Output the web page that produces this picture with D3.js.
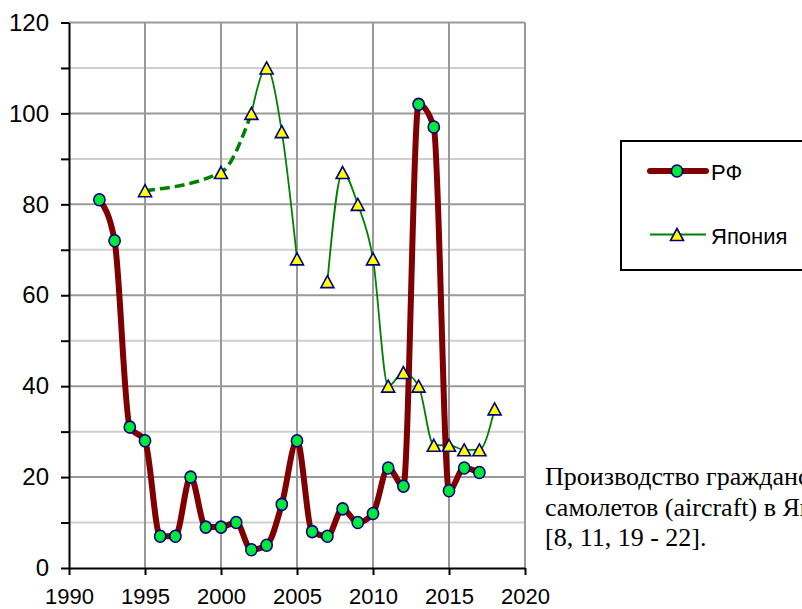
<!DOCTYPE html>
<html>
<head>
<meta charset="utf-8">
<script src="https://cdn.jsdelivr.net/npm/d3@7/dist/d3.min.js"></script>
<style>
	body { margin: 0; background: #fff; }
	svg { display: block; }
	.axis text { font-family: "Liberation Sans", Arial, sans-serif; font-size: 22px; fill: #000; }
	.axis.y text { font-size: 24px; }
	.axis path, .axis line { stroke: #000; stroke-width: 2px; }
</style>
</head>
<body>
<svg id="chart" width="802" height="609"></svg>
<script>
	// production of civil aircraft, units per year
	var rfYears = [1992, 1993, 1994, 1995, 1996, 1997, 1998, 1999, 2000, 2001, 2002, 2003, 2004,
		2005, 2006, 2007, 2008, 2009, 2010, 2011, 2012, 2013, 2014, 2015, 2016, 2017];
	var rfValues = [81, 72, 31, 28, 7, 7, 20, 9, 9, 10, 4, 5, 14,
		28, 8, 7, 13, 10, 12, 22, 18, 102, 97, 17, 22, 21];

	var jpYears = [1995, 2000, 2002, 2003, 2004, 2005, 2006, 2007, 2008, 2009, 2010, 2011, 2012,
		2013, 2014, 2015, 2016, 2017, 2018];
	var jpValues = [83, 87, 100, 110, 96, 68, null, 63, 87, 80, 68, 40, 43,
		40, 27, 27, 26, 26, 35];
	var jpDashedUntil = 2002; // 1995-2002 joined by a dashed estimate

	var xTicks = [1990, 1995, 2000, 2005, 2010, 2015, 2020];
	var yTicks = [0, 20, 40, 60, 80, 100, 120];
	var yMinorTicks = [10, 30, 50, 70, 90, 110];

	var seriesNames = ["РФ", "Япония"];
	var caption = ["Производство гражданских", "самолетов (aircraft) в Японии и РФ", "[8, 11, 19 - 22]."];

	function zip(x, y) {
		return x.map(function(_, i) {
			return { year: x[i], value: y[i] };
		});
	}

	var svg = d3.select("#chart");
	var x = d3.scaleLinear().domain([1990, 2020]).range([69, 525]);
	var y = d3.scaleLinear().domain([0, 120]).range([568, 22.5]);

	// grid
	var grid = svg.append("g");
	yMinorTicks.forEach(function(v) {
		grid.append("line")
			.attr("x1", x(1990)).attr("x2", x(2020))
			.attr("y1", y(v)).attr("y2", y(v))
			.attr("stroke", "#cfcfcf").attr("stroke-width", 2);
	});
	yTicks.slice(1).forEach(function(v) {
		grid.append("line")
			.attr("x1", x(1990)).attr("x2", x(2020))
			.attr("y1", y(v)).attr("y2", y(v))
			.attr("stroke", "#999").attr("stroke-width", 2);
	});
	xTicks.slice(1).forEach(function(v) {
		grid.append("line")
			.attr("x1", x(v)).attr("x2", x(v))
			.attr("y1", y(0)).attr("y2", y(120))
			.attr("stroke", "#999").attr("stroke-width", 2);
	});

	// axes
	svg.append("g").attr("class", "axis y")
		.attr("transform", "translate(" + x(1990) + ",0)")
		.call(d3.axisLeft(y).tickValues(yMinorTicks).tickFormat("").tickSize(8).tickSizeOuter(0))
		.select(".domain").remove();
	svg.append("g").attr("class", "axis y")
		.attr("transform", "translate(" + x(1990) + ",0)")
		.call(d3.axisLeft(y).tickValues(yTicks).tickFormat(d3.format("d")).tickSize(8).tickSizeOuter(0).tickPadding(12));
	svg.append("g").attr("class", "axis x")
		.attr("transform", "translate(0," + y(0) + ")")
		.call(d3.axisBottom(x).tickValues(xTicks).tickFormat(d3.format("d")).tickSize(7).tickSizeOuter(0).tickPadding(13));

	var line = d3.line()
		.defined(function(d) { return d.value != null; })
		.x(function(d) { return x(d.year); })
		.y(function(d) { return y(d.value); })
		.curve(d3.curveMonotoneX);

	var rf = zip(rfYears, rfValues);
	var jp = zip(jpYears, jpValues);

	// Japan: dashed estimate, then solid
	svg.append("path")
		.attr("d", line(jp.filter(function(d) { return d.year <= jpDashedUntil; })))
		.attr("fill", "none").attr("stroke", "#008000")
		.attr("stroke-width", 3.5).attr("stroke-dasharray", "10,5");
	svg.append("path")
		.attr("d", line(jp.filter(function(d) { return d.year >= jpDashedUntil; })))
		.attr("fill", "none").attr("stroke", "#008000").attr("stroke-width", 1.8);

	// RF
	svg.append("path")
		.attr("d", line(rf))
		.attr("fill", "none").attr("stroke", "#800000")
		.attr("stroke-width", 6).attr("stroke-linejoin", "round").attr("stroke-linecap", "round");

	svg.append("g").selectAll("ellipse")
		.data(rf).enter().append("ellipse")
		.attr("cx", function(d) { return x(d.year); })
		.attr("cy", function(d) { return y(d.value); })
		.attr("rx", 5.6).attr("ry", 6)
		.attr("fill", "#00e83a").attr("stroke", "#000080").attr("stroke-width", 1.6);

	var tri = "M0,-6L6.5,6L-6.5,6Z";
	svg.append("g").selectAll("path")
		.data(jp.filter(function(d) { return d.value != null; })).enter().append("path")
		.attr("transform", function(d) { return "translate(" + x(d.year) + "," + y(d.value) + ")"; })
		.attr("d", tri)
		.attr("fill", "#ffff00").attr("stroke", "#000080").attr("stroke-width", 1.6);

	// legend
	var legend = svg.append("g");
	legend.append("rect")
		.attr("x", 621).attr("y", 141).attr("width", 220).attr("height", 129)
		.attr("fill", "#fff").attr("stroke", "#000").attr("stroke-width", 2);
	legend.append("line")
		.attr("x1", 650).attr("x2", 706).attr("y1", 171).attr("y2", 171)
		.attr("stroke", "#800000").attr("stroke-width", 6).attr("stroke-linecap", "round");
	legend.append("ellipse")
		.attr("cx", 677).attr("cy", 171).attr("rx", 5.6).attr("ry", 6)
		.attr("fill", "#00e83a").attr("stroke", "#000080").attr("stroke-width", 1.6);
	legend.append("line")
		.attr("x1", 650).attr("x2", 706).attr("y1", 234.5).attr("y2", 234.5)
		.attr("stroke", "#008000").attr("stroke-width", 1.8);
	legend.append("path")
		.attr("transform", "translate(677,234.5)")
		.attr("d", tri)
		.attr("fill", "#ffff00").attr("stroke", "#000080").attr("stroke-width", 1.6);
	legend.selectAll("text")
		.data(seriesNames).enter().append("text")
		.attr("x", 711)
		.attr("y", function(d, i) { return i == 0 ? 172 : 236; })
		.attr("dy", "0.35em")
		.style("font-family", "'Liberation Sans', Arial, sans-serif")
		.style("font-size", "22px")
		.text(function(d) { return d; });

	// caption
	svg.append("g").selectAll("text")
		.data(caption).enter().append("text")
		.attr("x", 545)
		.attr("y", function(d, i) { return 485 + i * 30.5; })
		.style("font-family", "'Liberation Serif', 'Times New Roman', serif")
		.style("font-size", "26px")
		.text(function(d) { return d; });
</script>
</body>
</html>
